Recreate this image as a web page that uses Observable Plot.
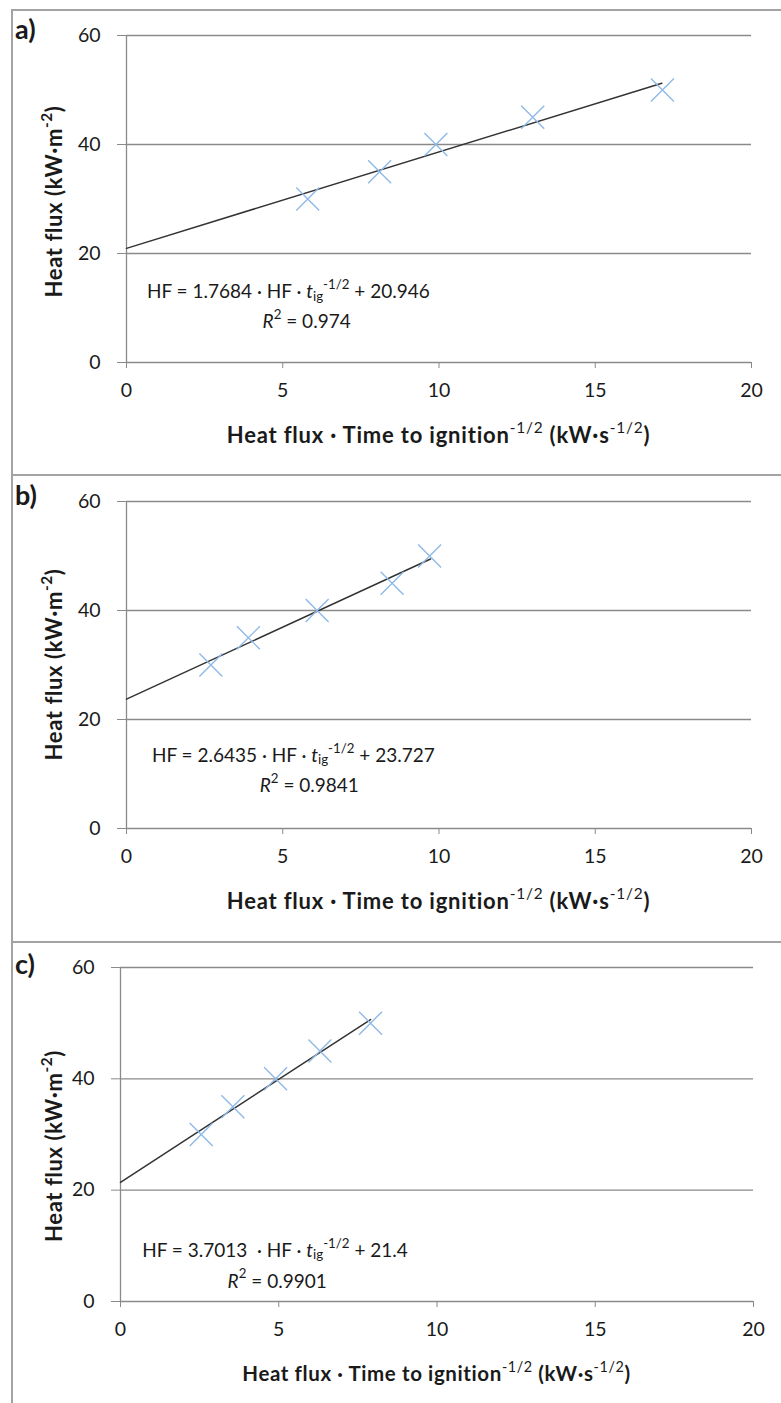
<!DOCTYPE html>
<html>
<head>
<meta charset="utf-8">
<script src="https://cdn.jsdelivr.net/npm/d3@7"></script>
<script src="https://cdn.jsdelivr.net/npm/@observablehq/plot@0.6"></script>
<style>
  html, body { margin: 0; padding: 0; background: #fff; }
  #wrap { position: relative; width: 781px; height: 1403px; overflow: hidden; font-family: Lato, "Open Sans", sans-serif; }
  .panel { position: absolute; left: 0; width: 781px; }
  .hline { position: absolute; left: 11px; right: 0; height: 2px; background: #a3a3a3; }
  .vline { position: absolute; left: 11px; width: 2px; top: 9px; bottom: 0; background: #a3a3a3; }
</style>
</head>
<body>
<div id="wrap">
  <div class="vline"></div>
  <div class="hline" style="top:9px"></div>
  <div class="hline" style="top:474px"></div>
  <div class="hline" style="top:941px"></div>
</div>
<script>
// ---- data ----
const panelLabels = ["a)", "b)", "c)"];
const heatFlux = [30, 35, 40, 45, 50];
const xA = [5.8, 8.1, 9.9, 13.0, 17.15];
const xB = [2.7, 3.9, 6.1, 8.5, 9.7];
const xC = [2.55, 3.55, 4.9, 6.3, 7.9];
const slopes = [1.7684, 2.6435, 3.7013];
const intercepts = [20.946, 23.727, 21.4];
const slopeText = ["1.7684", "2.6435", "3.7013 "];
const interceptText = ["20.946", "23.727", "21.4"];
const r2Text = ["0.974", "0.9841", "0.9901"];
const fitEnd = [17.13, 9.73, 7.9];
const xTicks = [0, 5, 10, 15, 20];
const yTicks = [0, 20, 40, 60];
const xSeries = [xA, xB, xC];

// layout per panel (positions, not data)
const layout = [
  {top: 10, height: 465, ml: 126, mr: 30, mt: 25, mb: 113, eq: [0.67, 12.6], r2: [4.37, 7.1], xtSize: 22, xtLs: 0.8, ytOff: 3, lblY: 29},
  {top: 475, height: 467, ml: 126, mr: 30, mt: 26, mb: 114, eq: [0.83, 13.0], r2: [4.28, 7.5], xtSize: 22, xtLs: 0.8, ytOff: 0, lblY: 30},
  {top: 942, height: 461, ml: 120, mr: 28, mt: 25, mb: 102, eq: [0.7, 8.8], r2: [3.4, 3.3], xtSize: 20.5, xtLs: 0.6, ytOff: 12, lblY: 32}
];

const GRID = "#8a8a8a";
const TXT = "#1a1a1a";

function rich(g, x, y, parts, size, opts = {}) {
  const t = g.append("text")
    .attr("x", x).attr("y", y)
    .attr("font-size", size)
    .attr("fill", TXT)
    .attr("font-weight", opts.weight || "normal")
    .attr("text-anchor", opts.anchor || "start")
    .attr("letter-spacing", opts.ls || 0)
    .attr("dominant-baseline", "middle");
  if (opts.rotate) t.attr("transform", `rotate(${opts.rotate},${x},${y})`);
  let shift = 0;
  for (const p of parts) {
    const s = t.append("tspan").text(p.t);
    let target = 0;
    if (p.sup) { s.attr("font-size", size * 0.7); target = -size * 0.38; }
    if (p.sub) { s.attr("font-size", size * 0.7); target = size * 0.22; }
    if (p.italic) s.attr("font-style", "italic");
    if (p.weight) s.attr("font-weight", p.weight);
    s.attr("dy", target - shift);
    shift = target;
  }
  return t;
}

const wrap = document.getElementById("wrap");

layout.forEach((L, i) => {
  const pts = xSeries[i].map((x, j) => ({x, y: heatFlux[j]}));
  const fit = [0, fitEnd[i]].map(x => ({x, y: slopes[i] * x + intercepts[i]}));
  const svg = Plot.plot({
    width: 781,
    height: L.height,
    marginLeft: L.ml,
    marginRight: L.mr,
    marginTop: L.mt,
    marginBottom: L.mb,
    style: {fontFamily: "Lato, 'Open Sans', sans-serif", background: "transparent", color: TXT, overflow: "visible"},
    x: {domain: [0, 20]},
    y: {domain: [0, 60]},
    marks: [
      Plot.ruleY(yTicks, {stroke: GRID, strokeWidth: 1.3}),
      Plot.ruleX([0], {y1: 0, y2: 60, stroke: GRID, strokeWidth: 1.3}),
      Plot.axisY({ticks: yTicks, tickSize: 9, tickPadding: 17, stroke: GRID, fill: TXT, fontSize: 19.5, label: null}),
      Plot.axisX({ticks: xTicks, tickSize: 6, tickPadding: 15, stroke: GRID, fill: TXT, fontSize: 19.5, label: null}),
      Plot.line(fit, {x: "x", y: "y", stroke: "#333", strokeWidth: 1.5}),
      Plot.dot(pts, {x: "x", y: "y", symbol: "times", r: 10.5, stroke: "#8fb9e6", strokeWidth: 1.4})
    ]
  });
  const xs = svg.scale("x"), ys = svg.scale("y");
  const g = d3.select(svg).append("g");
  // panel label
  g.append("text").attr("x", 15).attr("y", L.lblY).attr("font-size", 27).attr("font-weight", "bold")
    .attr("text-anchor", "start").attr("fill", TXT).text(panelLabels[i]);
  // y title
  const cy = (ys.apply(0) + ys.apply(60)) / 2 + L.ytOff;
  rich(g, 56, cy, [
    {t: "Heat flux (kW·m"}, {t: "-2", sup: true}, {t: ")"}
  ], 22, {weight: "bold", anchor: "middle", rotate: -90, ls: 0.6});
  // x title
  const cx = (xs.apply(0) + xs.apply(20)) / 2;
  rich(g, cx, ys.apply(0) + 75, [
    {t: "Heat flux · Time to ignition"}, {t: "-1/2", sup: true, weight: "normal"},
    {t: " (kW·s"}, {t: "-1/2", sup: true, weight: "normal"}, {t: ")"}
  ], L.xtSize, {weight: "bold", anchor: "middle", ls: L.xtLs});
  // equation
  rich(g, xs.apply(L.eq[0]), ys.apply(L.eq[1]), [
    {t: "HF = " + slopeText[i] + " · HF · "}, {t: "t", italic: true}, {t: "ig", sub: true},
    {t: "-1/2", sup: true}, {t: " + " + interceptText[i]}
  ], 19);
  rich(g, xs.apply(L.r2[0]), ys.apply(L.r2[1]), [
    {t: "R", italic: true}, {t: "2", sup: true}, {t: " = " + r2Text[i]}
  ], 19);

  const div = document.createElement("div");
  div.className = "panel";
  div.style.top = L.top + "px";
  div.style.height = L.height + "px";
  div.appendChild(svg);
  wrap.appendChild(div);
});
</script>
</body>
</html>
